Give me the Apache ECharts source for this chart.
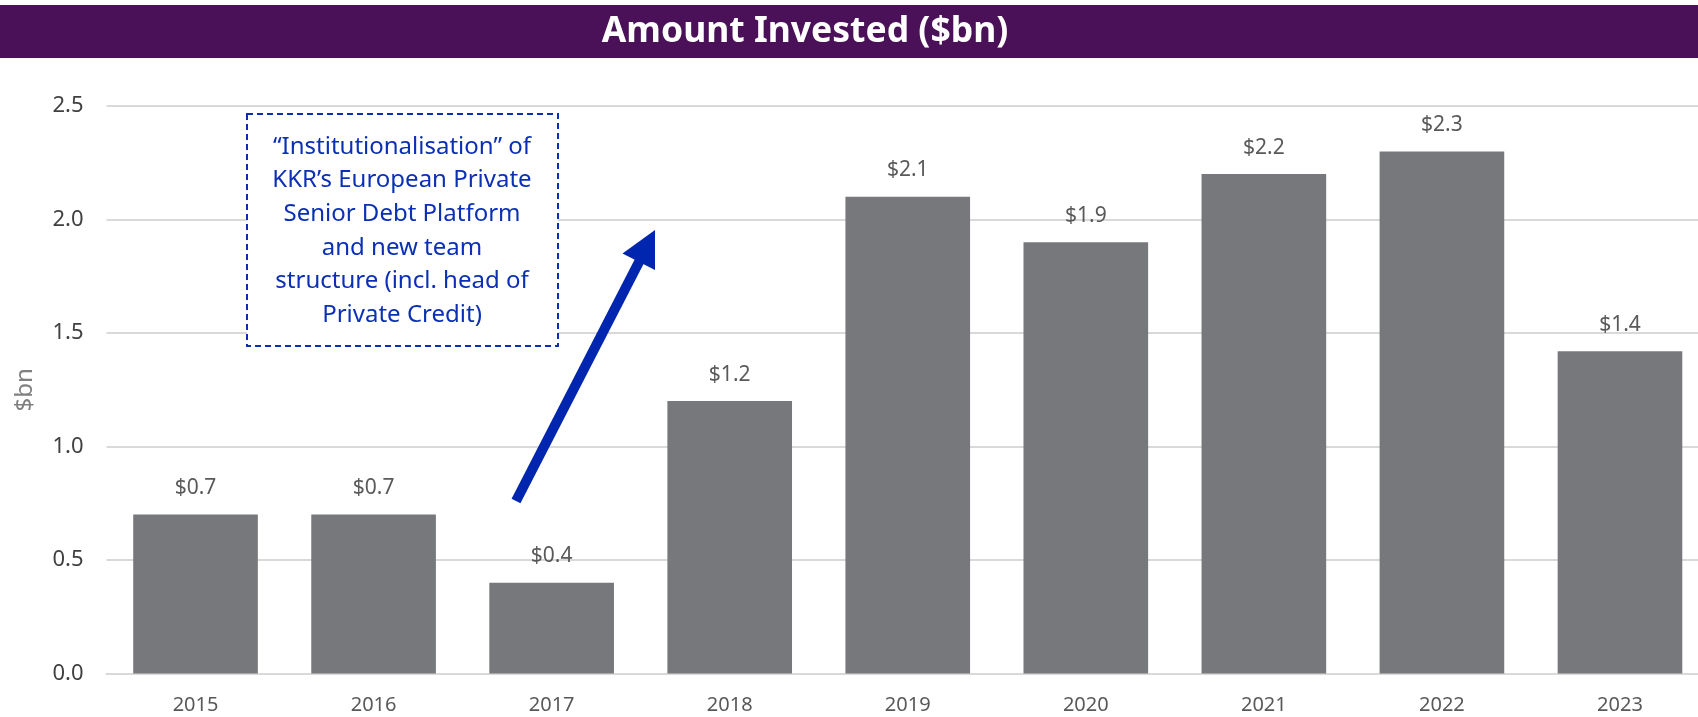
<!DOCTYPE html>
<html>
<head>
<meta charset="utf-8">
<script src="https://cdn.jsdelivr.net/npm/echarts@6/dist/echarts.min.js"></script>
<style>
html,body{margin:0;padding:0;background:#fff;}
#chart{width:1698px;height:717px;}
</style>
</head>
<body>
<div id="chart"></div>
<script>
var categories = ['2015','2016','2017','2018','2019','2020','2021','2022','2023'];
var amountInvested = [0.7, 0.7, 0.4, 1.2, 2.1, 1.9, 2.2, 2.3, 1.42];
var yTicks = [0, 0.5, 1.0, 1.5, 2.0, 2.5];
var titleText = 'Amount Invested ($bn)';
var yAxisName = '$bn';
var noteLines = [
  '\u201cInstitutionalisation\u201d of',
  'KKR\u2019s European Private',
  'Senior Debt Platform',
  'and new team',
  'structure (incl. head of',
  'Private Credit)'
];

var FONT = '"Noto Sans", "Open Sans", sans-serif';
var chart = echarts.init(document.getElementById('chart'), null, {renderer: 'canvas'});

var option = {
  animation: false,
  backgroundColor: '#ffffff',
  title: {
    text: titleText,
    left: 805,
    textAlign: 'center',
    top: 5,
    padding: 0,
    textStyle: {
      color: '#ffffff',
      fontFamily: FONT,
      fontWeight: 'bold',
      fontSize: 35.5,
      lineHeight: 53
    },
    z: 20
  },
  grid: {
    left: 106.5,
    width: 1602.5,
    top: 106,
    bottom: 43.5,
    containLabel: false,
    outerBoundsMode: 'none'
  },
  xAxis: {
    type: 'category',
    data: categories,
    axisTick: {show: false},
    axisLine: {show: true, lineStyle: {color: '#d9d9d9', width: 2}},
    axisLabel: {color: '#595959', fontSize: 20, fontFamily: FONT, margin: 22}
  },
  yAxis: {
    type: 'value',
    min: yTicks[0],
    max: yTicks[yTicks.length - 1],
    interval: 0.5,
    name: yAxisName,
    nameLocation: 'middle',
    nameGap: 69,
    nameRotate: 90,
    nameTextStyle: {color: '#808080', fontSize: 24, fontFamily: FONT},
    axisLine: {show: false},
    axisTick: {show: false},
    axisLabel: {
      color: '#404040', fontSize: 22, fontFamily: FONT, margin: 23,
      formatter: function (v) { return v.toFixed(1); }
    },
    splitLine: {show: true, lineStyle: {color: '#d9d9d9', width: 2}}
  },
  series: [{
    type: 'bar',
    data: amountInvested,
    barCategoryGap: '30%',
    itemStyle: {color: '#77787b'},
    label: {
      show: true,
      position: 'top',
      distance: 16,
      color: '#595959',
      fontSize: 21,
      fontFamily: FONT,
      formatter: function (p) { return '$' + p.value.toFixed(1); }
    }
  }],
  graphic: [
    {
      type: 'rect',
      z: -1,
      silent: true,
      shape: {x: 0, y: 5, width: 1698, height: 53},
      style: {fill: '#4a1058'}
    },
    {
      type: 'rect',
      z: 50,
      silent: true,
      shape: {x: 247, y: 114, width: 311, height: 232},
      style: {fill: '#ffffff', stroke: '#0a2db3', lineWidth: 2, lineDash: [6, 4]}
    },
    {
      type: 'text',
      z: 51,
      silent: true,
      x: 402,
      y: 231,
      style: {
        text: noteLines.join('\n'),
        align: 'center',
        verticalAlign: 'middle',
        fill: '#0b2fb5',
        font: '24px ' + FONT,
        lineHeight: 33.7
      }
    },
    {
      type: 'line',
      z: 52,
      silent: true,
      shape: {x1: 516, y1: 501, x2: 640, y2: 260},
      style: {stroke: '#0026b0', lineWidth: 10}
    },
    {
      type: 'polygon',
      z: 53,
      silent: true,
      shape: {points: [[655, 230], [622.5, 253.5], [655, 270]]},
      style: {fill: '#0026b0'}
    }
  ]
};
chart.setOption(option);
</script>
</body>
</html>
